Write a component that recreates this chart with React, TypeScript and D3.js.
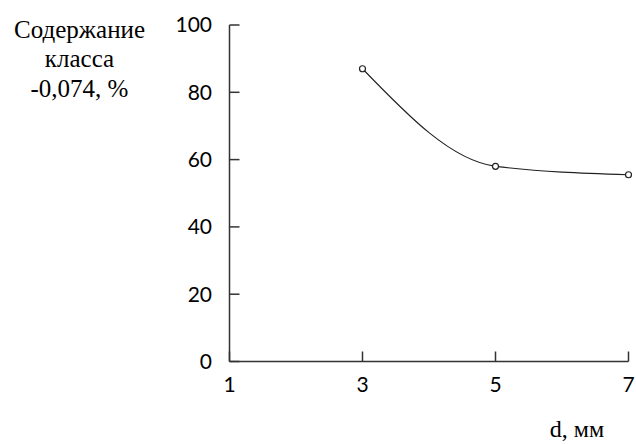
import React from "react";
import * as d3 from "d3";

const xValues = [3, 5, 7];
const yValues = [87, 58, 55.5];
const xTicks = [1, 3, 5, 7];
const yTicks = [0, 20, 40, 60, 80, 100];
const yTitleLines = ["Содержание", "класса", "-0,074, %"];
const xTitle = "d, мм";

export default function App() {
  const W = 636, H = 444;
  const x = d3.scaleLinear().domain([1, 7]).range([229.5, 628.5]);
  const y = d3.scaleLinear().domain([0, 100]).range([361.5, 25]);
  const pts: [number, number][] = xValues.map((v, i) => [x(v), y(yValues[i])]);
  const line = d3.line().curve(d3.curveMonotoneX)(pts) || "";
  const axisColor = "#333";
  const tickFont = "Lato, 'Open Sans', sans-serif";
  const serif = "'Liberation Serif', 'DejaVu Serif', serif";
  return (
    <svg width={W} height={H} style={{ position: "absolute", left: 0, top: 0, background: "#fff" }}>
      {/* y axis */}
      <line x1={x(1)} x2={x(1)} y1={y(100)} y2={y(0)} stroke={axisColor} strokeWidth={1.5} />
      {yTicks.map((t) => (
        <g key={t}>
          <line x1={x(1)} x2={x(1) + 10} y1={y(t)} y2={y(t)} stroke={axisColor} strokeWidth={1.5} />
          <text x={212} y={y(t)} dy="0.35em" textAnchor="end" fontFamily={tickFont} fontSize={21} fill="#000">
            {t}
          </text>
        </g>
      ))}
      {/* x axis */}
      <line x1={x(1)} x2={x(7)} y1={y(0)} y2={y(0)} stroke={axisColor} strokeWidth={1.5} />
      {xTicks.map((t) => (
        <g key={t}>
          <line x1={x(t)} x2={x(t)} y1={y(0)} y2={y(0) - 10} stroke={axisColor} strokeWidth={1.5} />
          <text x={x(t)} y={392} textAnchor="middle" fontFamily={tickFont} fontSize={21} fill="#000">
            {t}
          </text>
        </g>
      ))}
      {/* curve */}
      <path d={line} fill="none" stroke="#222" strokeWidth={1.1} />
      {pts.map((p, i) => (
        <circle key={i} cx={p[0]} cy={p[1]} r={3} fill="#fff" stroke="#222" strokeWidth={1.2} />
      ))}
      {/* titles */}
      {yTitleLines.map((s, i) => (
        <text key={i} x={79.5} y={38 + i * 29.3} textAnchor="middle" fontFamily={serif} fontSize={25} fill="#000">
          {s}
        </text>
      ))}
      <text x={577} y={437} textAnchor="middle" fontFamily={serif} fontSize={24} fill="#000">
        {xTitle}
      </text>
    </svg>
  );
}
